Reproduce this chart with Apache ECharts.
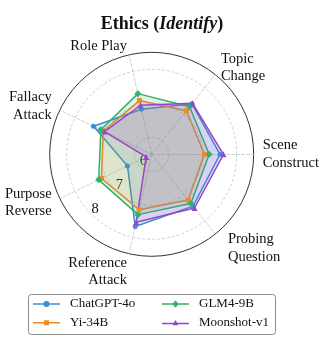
<!DOCTYPE html>
<html>
<head>
<meta charset="utf-8">
<script src="https://cdn.jsdelivr.net/npm/echarts/dist/echarts.min.js"></script>
<style>
html,body{margin:0;padding:0;background:#fff;}
#chart{width:324px;height:340px;}
</style>
</head>
<body>
<div id="chart"></div>
<script>
// ---- data ----
const categories = ['Scene\nConstruct', 'Topic\nChange', 'Role Play', 'Fallacy\nAttack', 'Purpose\nReverse', 'Reference\nAttack', 'Probing\nQuestion'];
const seriesNames = ['ChatGPT-4o', 'Yi-34B', 'GLM4-9B', 'Moonshot-v1'];
const chatgpt  = [7.51, 7.40, 6.86, 7.40, 6.29, 7.68, 7.45];
const yi       = [7.05, 7.14, 7.12, 7.08, 7.14, 7.17, 7.22];
const glm      = [7.19, 7.29, 7.33, 7.16, 7.23, 7.32, 7.35];
const moonshot = [7.61, 7.42, 6.98, 7.04, 5.68, 7.55, 7.52];
const rMin = 5.5, rMax = 8.5, rStep = 0.5;
const titleParts = ['Ethics (', 'Identify', ')'];

// ---- styling ----
const colors = ['#3a8fd5', '#f08a24', '#33b06a', '#9a44c8'];
const symbols = ['circle', 'rect', 'diamond', 'triangle'];
const symbolSizes = [5, 5, 7, 6];
const icons = [
  'path://M0,2.25H27V3.75H0Z M10.5,3A3,3 0 1 1 16.5,3A3,3 0 1 1 10.5,3Z',
  'path://M0,1.75H27V3.25H0Z M11,0H16V5H11Z',
  'path://M0,2.75H27V4.25H0Z M13.5,0L17,3.5L13.5,7L10,3.5Z',
  'path://M0,2.75H27V4.25H0Z M13.5,0L16.5,5.2L10.5,5.2Z'
];
const serif = 'Liberation Serif';
const CX = 151.7, CY = 154.3, R = 102;
const allValues = [chatgpt, yi, glm, moonshot];

const base = {fontFamily: serif, fontSize: 14.5, color: '#111', lineHeight: 17.5};
const nameRich = {
  n:  base,
  pb: Object.assign({}, base, {padding: [0, 0, 0, 7]}),
  g14: {fontSize: 1, lineHeight: 14},
  g18: {fontSize: 1, lineHeight: 18}
};

const chart = echarts.init(document.getElementById('chart'), null, {renderer: 'canvas'});
const option = {
  backgroundColor: '#fff',
  animation: false,
  title: {
    text: '{b|' + titleParts[0] + '}{i|' + titleParts[1] + '}{b|' + titleParts[2] + '}',
    left: 'center',
    top: 8,
    textStyle: {
      rich: {
        b: {fontFamily: serif, fontSize: 18, fontWeight: 'bold', color: '#111', lineHeight: 22},
        i: {fontFamily: serif, fontSize: 18, fontWeight: 'bold', fontStyle: 'italic', color: '#111', lineHeight: 22}
      }
    }
  },
  polar: {center: [CX, CY], radius: R},
  angleAxis: {
    type: 'value', min: 0, max: 360, startAngle: 225,
    axisLine: {show: true, lineStyle: {color: '#333', width: 1}},
    axisTick: {show: false}, axisLabel: {show: false}, splitLine: {show: false}
  },
  radiusAxis: {
    type: 'value', min: rMin, max: rMax, interval: rStep,
    axisLine: {show: false}, axisTick: {show: false},
    axisLabel: {
      show: true, margin: 0,
      formatter: function (v) { return Math.abs(v - Math.round(v)) < 1e-6 && v > rMin && v < rMax ? '{t|' + Math.round(v) + '}' : ''; },
      rich: {t: {fontFamily: serif, fontSize: 14.5, color: '#111', padding: [0, 3, 11, 0]}}
    },
    splitLine: {show: true, lineStyle: {color: ['rgba(0,0,0,0)', '#c4c4c4'], type: [3, 2], width: 0.8}}
  },
  radar: {
    center: [CX, CY], radius: R, startAngle: 0, shape: 'circle',
    indicator: categories.map(function (c) { return {name: c, min: rMin, max: rMax}; }),
    nameGap: 9,
    axisName: {
      color: '#111', fontFamily: serif, fontSize: 14.5,
      formatter: function (name) {
        const parts = name.split('\n');
        if (name.indexOf('Probing') === 0) return '{g14| }\n{pb|' + parts[0] + '}\n{pb|' + parts[1] + '}';
        if (name.indexOf('Reference') === 0) return '{g18| }\n{n|' + parts[0] + '}\n{n|' + parts[1] + '}';
        return parts.map(function (p) { return '{n|' + p + '}'; }).join('\n');
      },
      rich: nameRich
    },
    axisLine: {show: true, lineStyle: {color: '#c4c4c4', type: [3, 2], width: 0.8}},
    splitLine: {show: false},
    splitArea: {show: false},
    axisTick: {show: false},
    axisLabel: {show: false}
  },
  legend: [
    {
      orient: 'vertical', left: 33, top: 297, padding: 0, itemWidth: 27, itemHeight: 7, itemGap: 4.7,
      data: [0, 1].map(function (i) { return {name: seriesNames[i], icon: icons[i]}; }),
      textStyle: {fontFamily: serif, fontSize: 13, color: '#111', lineHeight: 14, padding: [0, 0, 0, 5]}
    },
    {
      orient: 'vertical', left: 162, top: 297, padding: 0, itemWidth: 27, itemHeight: 7, itemGap: 4.7,
      data: [2, 3].map(function (i) { return {name: seriesNames[i], icon: icons[i]}; }),
      textStyle: {fontFamily: serif, fontSize: 13, color: '#111', lineHeight: 14, padding: [0, 0, 0, 5]}
    }
  ],
  graphic: [{
    type: 'rect', left: 28, top: 294, silent: true, z: -1,
    shape: {width: 247, height: 40, r: 3},
    style: {fill: '#fff', stroke: '#8c8c8c', lineWidth: 1}
  }],
  series: [{
    type: 'radar',
    data: seriesNames.map(function (n, i) {
      return {
        name: n,
        value: allValues[i],
        symbol: symbols[i],
        symbolSize: symbolSizes[i],
        itemStyle: {color: colors[i]},
        lineStyle: {color: colors[i], width: 1.5},
        areaStyle: {color: colors[i], opacity: 0.15}
      };
    })
  }]
};
chart.setOption(option);
</script>
</body>
</html>
